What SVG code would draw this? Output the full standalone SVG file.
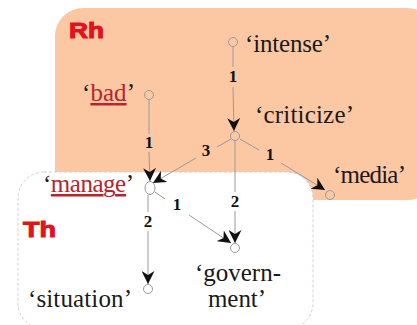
<svg xmlns="http://www.w3.org/2000/svg" width="417" height="325" viewBox="0 0 417 325">
  <defs>
    <marker id="arrow" viewBox="0 0 13 13" refX="13" refY="6.5" markerWidth="13" markerHeight="13" markerUnits="userSpaceOnUse" orient="auto">
      <path d="M0,0 L13,6.5 L0,13 L4,6.5 Z" fill="#111"/>
    </marker>
  </defs>
  <style>
    .region-rh { fill: #fcc8a4; }
    .region-th { fill: #ffffff; stroke: #dccbcf; stroke-width: 1; stroke-dasharray: 3 2; }
    .tag { font-family: "Liberation Sans", Arial, sans-serif; font-weight: bold; font-size: 22px; fill: #e3121c; stroke: #e3121c; stroke-width: 1; }
    .word { font-family: "Liberation Serif", "Times New Roman", serif; font-size: 25px; fill: #1a1a1a; }
    .hl { fill: #b8242a; text-decoration: underline; }
    .num { font-family: "Liberation Serif", "Times New Roman", serif; font-weight: bold; font-size: 17px; fill: #111; text-anchor: middle; }
    .node { fill: none; stroke: #9a9a9a; stroke-width: 1; }
    .edge { fill: none; stroke: #9a9a9a; stroke-width: 1; }
    .edge.head { marker-end: url(#arrow); }
  </style>

  <!-- regions -->
  <rect class="region-rh" x="55" y="8" width="380" height="192" rx="28" ry="28"/>
  <text class="tag" x="69" y="38" textLength="35" lengthAdjust="spacingAndGlyphs">Rh</text>
  <rect class="region-th" x="18" y="172" width="295" height="157" rx="26" ry="26"/>
  <text class="tag" x="23" y="237" textLength="33" lengthAdjust="spacingAndGlyphs">Th</text>

  <!-- connectors -->
  <g id="connectors">
    <line class="edge" x1="233" y1="47" x2="233" y2="67"/>
    <line class="edge head" x1="233" y1="87" x2="234" y2="131"/>
    <text class="num" x="233" y="82">1</text>

    <line class="edge" x1="149" y1="100" x2="149" y2="134"/>
    <line class="edge head" x1="149" y1="152" x2="150" y2="181"/>
    <text class="num" x="149" y="148">1</text>

    <line class="edge" x1="231" y1="139" x2="217" y2="147"/>
    <line class="edge head" x1="196" y1="158" x2="153" y2="183"/>
    <text class="num" x="206" y="156">3</text>

    <line class="edge" x1="240" y1="139" x2="259" y2="150"/>
    <line class="edge head" x1="281" y1="163" x2="325" y2="190"/>
    <text class="num" x="270" y="160">1</text>

    <line class="edge" x1="235" y1="141" x2="235" y2="192"/>
    <line class="edge head" x1="235" y1="211" x2="235" y2="243"/>
    <text class="num" x="235" y="207">2</text>

    <line class="edge" x1="155" y1="192" x2="165" y2="199"/>
    <line class="edge head" x1="189" y1="215" x2="231" y2="243"/>
    <text class="num" x="177" y="210">1</text>

    <line class="edge" x1="148" y1="195" x2="148" y2="212"/>
    <line class="edge head" x1="148" y1="231" x2="148" y2="284"/>
    <text class="num" x="148" y="227">2</text>
  </g>

  <!-- nodes -->
  <g id="intense">
    <circle class="node" cx="233" cy="42" r="4.5"/>
    <text class="word" x="245" y="52" textLength="86">‘intense’</text>
  </g>
  <g id="bad">
    <circle class="node" cx="149" cy="95" r="4.5"/>
    <text class="word" x="82" y="101" textLength="53">‘<tspan class="hl">bad</tspan>’</text>
  </g>
  <g id="criticize">
    <circle class="node" cx="235" cy="136" r="4.5"/>
    <text class="word" x="255" y="123" textLength="99">‘criticize’</text>
  </g>
  <g id="manage">
    <ellipse class="node" cx="150" cy="188" rx="5" ry="6.5"/>
    <text class="word" x="43" y="192" textLength="91">‘<tspan class="hl">manage</tspan>’</text>
  </g>
  <g id="media">
    <circle class="node" cx="330" cy="195" r="4.5"/>
    <text class="word" x="333" y="183" textLength="73">‘media’</text>
  </g>
  <g id="government">
    <circle class="node" cx="235" cy="248" r="4.5"/>
    <text class="word" x="195" y="281" textLength="86">‘govern-</text>
    <text class="word" x="208" y="307" textLength="58">ment’</text>
  </g>
  <g id="situation">
    <circle class="node" cx="148" cy="289" r="4.5"/>
    <text class="word" x="28" y="307" textLength="104">‘situation’</text>
  </g>
</svg>
